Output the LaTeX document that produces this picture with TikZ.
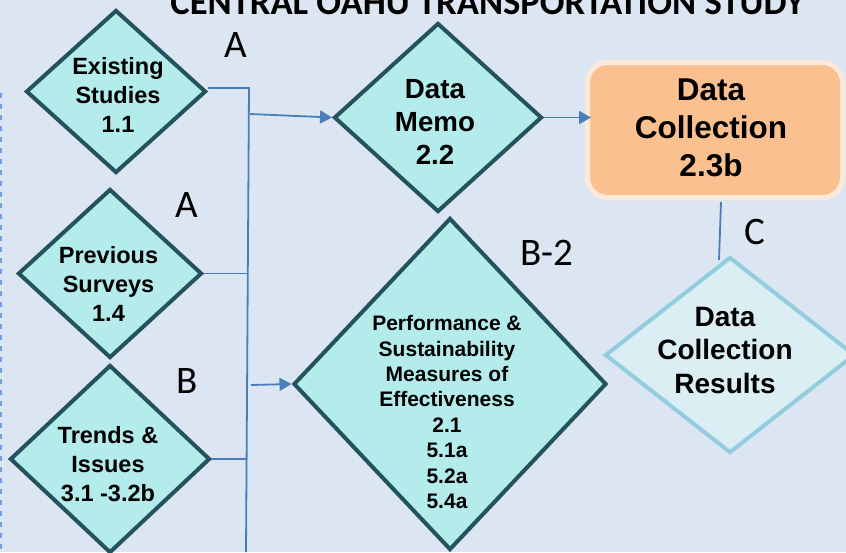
\documentclass[tikz,border=0pt]{standalone}
\usepackage{fontspec}
\setmainfont{Liberation Sans}
\newfontfamily\calib{Carlito}
\usetikzlibrary{shapes.geometric,arrows.meta}
\definecolor{bg}{HTML}{DCE6F2}
\definecolor{dfill}{HTML}{B4ECEC}
\definecolor{dline}{HTML}{24535F}
\definecolor{linkblue}{HTML}{4A7EBB}
\definecolor{dashblue}{HTML}{6F9FDC}
\definecolor{boxfill}{HTML}{FAC090}
\definecolor{boxline}{HTML}{FDE9D9}
\definecolor{rfill}{HTML}{DAEEF3}
\definecolor{rline}{HTML}{93CDDD}
\begin{document}
\begin{tikzpicture}[x=1pt,y=-1pt,
  dia/.style={diamond, draw=dline, fill=dfill, line width=4pt, inner sep=0pt},
  rdia/.style={diamond, draw=rline, fill=rfill, line width=4pt, inner sep=0pt},
  txt/.style 2 args={align=center, inner sep=0pt, font=\bfseries\fontsize{#1}{#2}\selectfont},
  lbl/.style={anchor=base, inner sep=0pt, font=\calib\fontsize{39}{44}\selectfont},
  link/.style={draw=linkblue, line width=1.8pt},
  arr/.style={link, -{Triangle[length=12pt,width=13pt]}}
]
\useasboundingbox (0,0) rectangle (846,552);
\clip (0,0) rectangle (846,552);
\fill[bg] (0,0) rectangle (846,552);

\node[anchor=base, inner sep=0pt, font=\calib\bfseries\fontsize{36.6}{40}\selectfont] (title) at (487.5,14) {CENTRAL OAHU TRANSPORTATION STUDY};

\coordinate (dtop) at (1,93);
\coordinate (dbot) at (1,552);
\draw[dashblue, line width=1.6pt, dash pattern=on 5pt off 6pt] (dtop) -- (dbot);

% diamonds
\node[dia, minimum width=180, minimum height=163] (d1) at (116,91.5) {};
\node[dia, minimum width=184, minimum height=169] (d2) at (110,273.5) {};
\node[dia, minimum width=200, minimum height=188] (d3) at (110,459) {};
\node[dia, minimum width=208, minimum height=189] (memo) at (438,117.5) {};
\node[dia, minimum width=313, minimum height=332] (perf) at (450,384) {};
\node[rdia, minimum width=250, minimum height=196] (res) at (730,355) {};
\node[draw=boxline, fill=boxfill, line width=5pt, rounded corners=20pt, minimum width=255, minimum height=135, inner sep=0pt] (box) at (715,130) {};

% texts
\node[txt={23.5}{29}] (d1t) at (118,95) {Existing\\Studies\\1.1};
\node[txt={23.5}{29}] (d2t) at (108.5,284) {Previous\\Surveys\\1.4};
\node[txt={23.5}{29}] (d3t) at (108,464) {Trends \&\\Issues\\3.1 -3.2b};
\node[txt={27.7}{33}] (memot) at (435,122) {Data\\Memo\\2.2};
\node[txt={21}{25.4}] (perft) at (447,412) {Performance \&\\Sustainability\\Measures of\\Effectiveness\\2.1\\5.1a\\5.2a\\5.4a};
\node[txt={28}{33.5}] (rest) at (725,350) {Data\\Collection\\Results};
\node[txt={31.5}{38}] (boxt) at (711,128) {Data\\Collection\\2.3b};

% labels
\node[lbl] (la1) at (236,57) {A};
\node[lbl] (la2) at (187,217) {A};
\node[lbl] (lb) at (187.5,393) {B};
\node[lbl] (lb2) at (546.5,265) {B-2};
\node[lbl] (lc) at (755,244) {C};

% connectors
\coordinate (t1) at (249,88);
\coordinate (t2) at (246,552);
\draw[link] ([yshift=3.5]d1.east) -- (t1) -- (t2);
\draw[link] (d2.east) -- (d2.east -| 248,0);
\draw[link] (d3.east) -- (d3.east -| 247,0);
\coordinate (a1) at (250,114);
\draw[arr] (a1) -- (memo.west);
\coordinate (a2) at (251,385);
\draw[arr] (a2) -- (perf.west);
\draw[arr] (memo.east) -- ([xshift=6]memo.east -| box.west);
\draw[link] ([xshift=6,yshift=-2]box.south) -- ([xshift=-11,yshift=-5]res.north);
\end{tikzpicture}
\end{document}
